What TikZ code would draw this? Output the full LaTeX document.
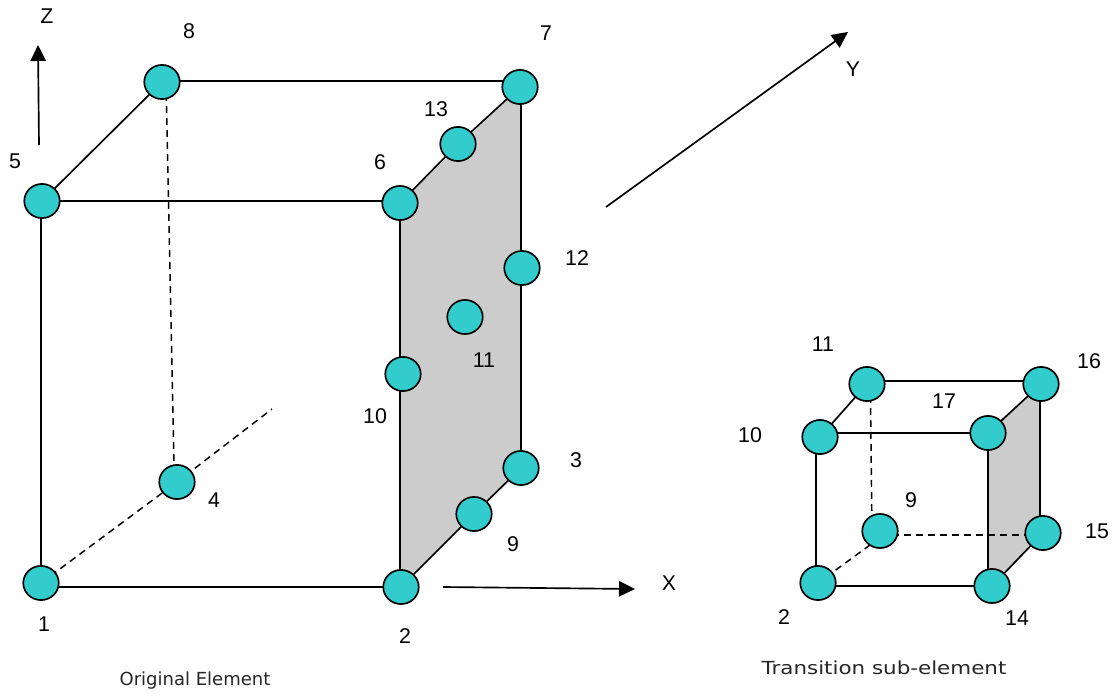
\documentclass[tikz,border=0pt]{standalone}
\usepackage{fontspec}
\setmainfont{Liberation Sans}
\newfontfamily\capfont{DejaVu Sans}
\newfontfamily\capwide[FakeStretch=1.19]{DejaVu Sans}
\usetikzlibrary{arrows.meta,backgrounds,shapes.geometric}
\definecolor{ptcol}{RGB}{51,204,204}
\tikzset{
  ptn/.style={ellipse,draw=black,fill=ptcol,line width=1.25pt,minimum width=26.6pt,minimum height=25.6pt,inner sep=0pt},
  lab/.style={font=\fontsize{16}{18}\selectfont,inner sep=0pt},
  capt/.style={font=\capfont\fontsize{13.5}{16}\selectfont,inner sep=0pt,text=black!85},
  ln/.style={line width=1.25pt},
  dashline/.style={line width=1.1pt,dash pattern=on 5.2pt off 3.8pt},
  axisline/.style={line width=1.25pt,-{Triangle[length=12pt,width=11.5pt]}},
  facefill/.style={fill=black!20,draw=none},
}
\begin{document}
\begin{tikzpicture}[x=0.75pt,y=-0.75pt]
\useasboundingbox (0,0) rectangle (1114,696);
% original element nodes
\node[ptn] (a1) at (41,583) {};
\node[ptn] (a2) at (401,587) {};
\node[ptn] (a3) at (521,468) {};
\node[ptn] (a4) at (177,482) {};
\node[ptn] (a5) at (42,201) {};
\node[ptn] (a6) at (400,203) {};
\node[ptn] (a7) at (520,87) {};
\node[ptn] (a8) at (162,82) {};
\node[ptn] (a9) at (474,514) {};
\node[ptn] (a10) at (403,374) {};
\node[ptn] (a11) at (465,317) {};
\node[ptn] (a12) at (522,268) {};
\node[ptn] (a13) at (458,144) {};
% sub-element nodes
\node[ptn] (b2) at (818,583) {};
\node[ptn] (b9) at (880,531) {};
\node[ptn] (b10) at (820,437) {};
\node[ptn] (b11) at (867,384) {};
\node[ptn] (b14) at (992,586) {};
\node[ptn] (b15) at (1043,533) {};
\node[ptn] (b16) at (1041,384) {};
\node[ptn] (b17) at (988,433) {};
% free ends
\coordinate (zs) at (39,145); \coordinate (ze) at (38,45);
\coordinate (xs) at (443,587); \coordinate (xe) at (635,589);
\coordinate (ys) at (606,207); \coordinate (ye) at (848,32);
\coordinate (d4) at (272,409);
\begin{scope}[on background layer]
\path[facefill] (a6.center) -- (a7.center) -- (a3.center |- a7.center) -- (a3.center) -- (a2.center) -- (a2.center -| a6.center) -- cycle;
\path[facefill] (b17.center) -- (b16.center) -- ([xshift=-1pt]b16.center) -- ([xshift=-1pt]b16.center |- b15.center) -- (b15.center) -- (b14.center) -- (b14.center -| b17.center) -- cycle;
% edges, ends hidden under the nodes
\draw[ln] (a2.center) -- (a2.center -| a1.center);
\draw[ln] (a1.center) -- (a1.center |- a5.center);
\draw[ln] (a5.center) -- (a5.center -| a6.center);
\draw[ln] (a5.center) -- (a8.center);
\draw[ln] ([yshift=0.75pt]a8.center) -- ([yshift=0.75pt]a8.center -| a7.center);
\draw[ln] (a6.center) -- (a6.center |- a2.center);
\draw[ln] (a6.center) -- (a13.center) -- (a7.center);
\draw[ln] (a3.center) -- (a3.center |- a7.center);
\draw[ln] (a3.center) -- (a9.center) -- (a2.center);
\draw[dashline] ([xshift=3pt]a8.center) -- ([xshift=-2pt]a4.center);
\draw[dashline] (a1.center) -- (a4.center) -- (d4);
\draw[ln] (b14.center) -- (b14.center -| b2.center);
\draw[ln] ([xshift=-1.5pt]b2.center) -- ([xshift=-1.5pt]b2.center |- b10.center);
\draw[ln] (b17.center) -- (b17.center -| b10.center);
\draw[ln] (b10.center) -- (b11.center);
\draw[ln] ([yshift=2.25pt]b11.center) -- ([yshift=2.25pt]b11.center -| b16.center);
\draw[ln] (b17.center) -- (b16.center);
\draw[ln] ([xshift=-1pt]b16.center) -- ([xshift=-1pt]b16.center |- b15.center);
\draw[ln] (b15.center) -- (b14.center);
\draw[ln] (b17.center) -- (b17.center |- b14.center);
\draw[dashline] ([xshift=2.5pt]b11.center) -- ([xshift=-6pt]b9.center);
\draw[dashline] ([yshift=-3pt]b9.center) -- ([yshift=-3pt]b9.center -| b15.center);
\draw[dashline] ([yshift=-5pt]b9.center) -- (b2.center);
\end{scope}
% axes
\draw[axisline] (zs) -- (ze);
\draw[axisline] (xs) -- (xe);
\draw[axisline] (ys) -- (ye);
% labels
\node[lab] (lz) at (47,16) {Z};
\node[lab] (lx) at (669,583) {X};
\node[lab] (ly) at (853,69) {Y};
\node[lab] (l1) at (44,624) {1};
\node[lab] (l2) at (405,636) {2};
\node[lab] (l3) at (576,460) {3};
\node[lab] (l4) at (214,500) {4};
\node[lab] (l5) at (15,161) {5};
\node[lab] (l6) at (380,162) {6};
\node[lab] (l7) at (546,33) {7};
\node[lab] (l8) at (189,31) {8};
\node[lab] (l9) at (513,544) {9};
\node[lab] (l10) at (375,416) {10};
\node[lab] (l11) at (484,360) {11};
\node[lab] (l12) at (577,258) {12};
\node[lab] (l13) at (436,109) {13};
\node[lab] (m11) at (823,344) {11};
\node[lab] (m16) at (1089,361) {16};
\node[lab] (m17) at (944,401) {17};
\node[lab] (m10) at (750,435) {10};
\node[lab] (m9) at (911,500) {9};
\node[lab] (m15) at (1097,531) {15};
\node[lab] (m2) at (784,617) {2};
\node[lab] (m14) at (1017,618) {14};
\node[capt] (c1) at (195,681) {Original Element};
\node[capt,font=\capwide\fontsize{13.5}{16}\selectfont] (c2) at (884,668) {Transition sub-element};
\end{tikzpicture}
\end{document}
